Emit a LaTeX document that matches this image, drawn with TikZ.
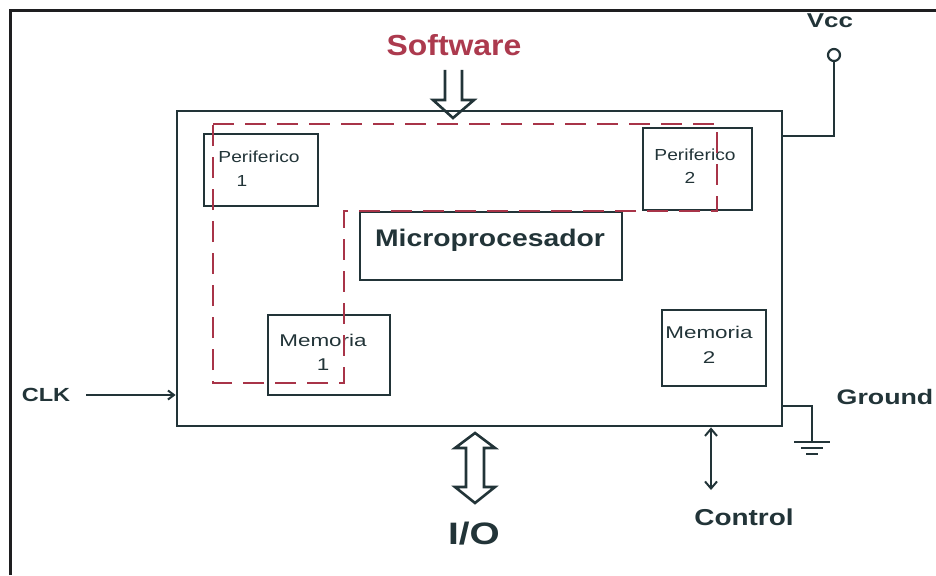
\documentclass[tikz,border=0pt]{standalone}
\usepackage{fontspec}
\setmainfont{Liberation Sans}
\usetikzlibrary{arrows.meta,calc}
\definecolor{linec}{RGB}{34,52,56}
\definecolor{bordc}{RGB}{30,30,32}
\definecolor{dashc}{RGB}{168,52,72}
\definecolor{softc}{RGB}{172,58,78}
\tikzset{
  blk/.style={draw=linec, line width=2.8pt, inner sep=0pt},
  bxtext/.style={text=linec, font=\fontsize{16}{23}\selectfont, align=center, xscale=1.2},
  bigtext/.style={text=linec, font=\bfseries, xscale=1.18},
  wire/.style={draw=linec, line width=2.6pt},
  hollow/.style={draw=linec, line width=2.6pt, line join=miter, fill=white},
  bound/.style={line width=2.8pt, dash pattern=on 21pt off 11pt, draw=dashc}
}
\begin{document}
\begin{tikzpicture}[x=1pt,y=-1pt]
\useasboundingbox (0,0) rectangle (936,575);
% outer frame (top and left edges)
\draw[bordc, line width=3pt] (10,575) -- (10,11) -- (936,11);

% chip outline
\node[blk, minimum width=605pt, minimum height=315pt] (main) at (479.5,268.5) {};

% internal blocks
\node[blk, minimum width=114pt, minimum height=72pt] (per1) at (261,170) {};
\node[bxtext] at (259,157) {Periferico};
\node[bxtext] at (242,181) {1};
\node[blk, minimum width=109pt, minimum height=82pt] (per2) at (697.5,169) {};
\node[bxtext] at (695,155) {Periferico};
\node[bxtext] at (690,178) {2};
\node[blk, minimum width=262pt, minimum height=68pt] (micro) at (491,246) {};
\node[bigtext, font=\bfseries\fontsize{24}{30}\selectfont] at (490,240) {Microprocesador};
\node[blk, minimum width=122pt, minimum height=80pt] (mem1) at (329,355) {};
\node[bxtext, font=\fontsize{17}{24}\selectfont, xscale=1.1] at (323,352) {Memoria\\1};
\node[blk, minimum width=104pt, minimum height=76pt] (mem2) at (714,348) {};
\node[bxtext, font=\fontsize{17}{25}\selectfont, xscale=1.1] at (709,345) {Memoria\\2};

% dashed boundary around the microprocessor subsystem
\draw[bound] (213,124) -- (717,124) -- (717,211) -- (344,211) -- (344,383) -- (213,383) -- cycle;

% software input
\node[text=softc, font=\bfseries\fontsize{29}{34}\selectfont, xscale=1.1] (sw) at (454,45) {Software};
\coordinate (swin) at (453,118);
\draw[hollow, fill=none] (445,70) -- (445,100) -- (433,100) -- (swin) -- (474,100) -- (462,100) -- (462,70);

% Vcc terminal
\node[bigtext, font=\bfseries\fontsize{20}{22}\selectfont, xscale=1.1] (vcclab) at (830,21) {Vcc};
\node[circle, draw=linec, line width=2.2pt, minimum size=12pt, inner sep=0pt] (vcc) at (834,55) {};
\coordinate (vccin) at (main.east |- 0,136);
\draw[wire] (vcc.south) |- (vccin);

% clock input
\node[bigtext, font=\bfseries\fontsize{19}{22}\selectfont, xscale=1.05] (clk) at (46,395) {CLK};
\coordinate (clkin) at (main.west |- 0,395);
\draw[wire, line width=2pt, -{Straight Barb[length=6pt,width=9pt]}] (86,395) -- (clkin);

% ground
\node[bigtext, font=\bfseries\fontsize{21}{24}\selectfont, xscale=1.08] (gndlab) at (885,397) {Ground};
\coordinate (gndout) at (main.east |- 0,406);
\coordinate (gnd) at (812,442);
\draw[wire] (gndout) -| (gnd);
\draw[wire] (794,442) -- (830,442);
\draw[wire] (801,448) -- (823,448);
\draw[wire] (806,454) -- (818,454);

% I/O bus
\node[text=linec, font=\bfseries\fontsize{31}{34}\selectfont, xscale=1.25] (io) at (474,534) {I/O};
\draw[hollow] (475,433) -- (495,448) -- (484,448) -- (484,487) -- (495,487) -- (475,503) -- (455,487) -- (466,487) -- (466,448) -- (455,448) -- cycle;

% control line
\node[bigtext, font=\bfseries\fontsize{23}{26}\selectfont, xscale=1.03] (ctl) at (744,517) {Control};
\coordinate (ctltop) at (main.south -| 711,0);
\coordinate (ctlbot) at (711,490);
\draw[wire, line width=2pt, {Straight Barb[length=7pt,width=12pt]}-{Straight Barb[length=7pt,width=12pt]}] (ctltop) -- (ctlbot);
\end{tikzpicture}
\end{document}
